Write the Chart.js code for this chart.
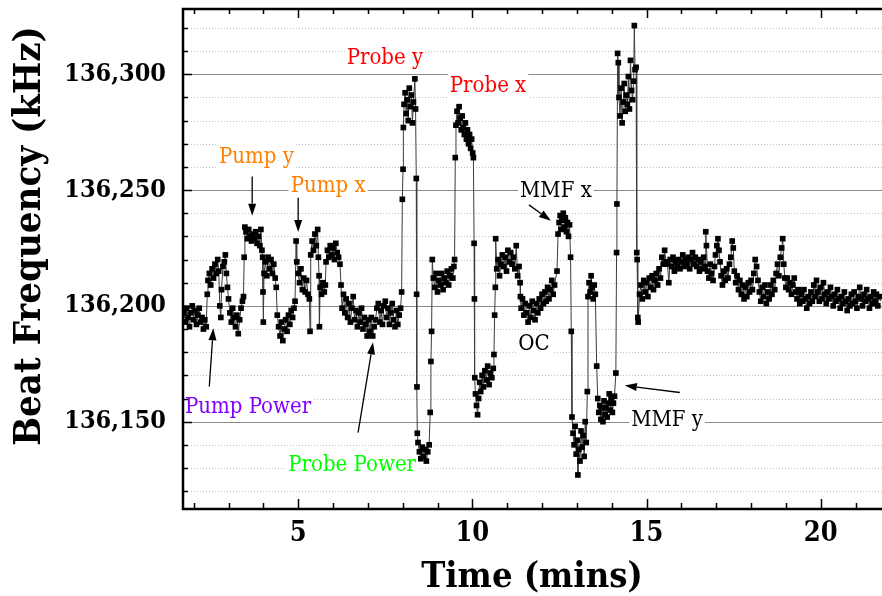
<!DOCTYPE html>
<html>
<head>
<meta charset="utf-8">
<script src="https://cdn.jsdelivr.net/npm/chart.js@4.4.1/dist/chart.umd.min.js"></script>
<style>
  html, body { margin: 0; padding: 0; background: #fff; }
  canvas { display: block; }
</style>
</head>
<body>
<canvas id="beatChart" width="882" height="596"></canvas>
<script>
// beat note readings: time in minutes, frequency in kHz
const timeMin = [
  1.68, 1.72, 1.76, 1.80, 1.84, 1.88, 1.92, 1.96, 2.00, 2.04, 2.08, 2.12, 2.16, 2.20, 2.24, 2.28, 2.32, 2.36,
  2.39, 2.41, 2.45, 2.49, 2.53, 2.57, 2.61, 2.65, 2.69, 2.72, 2.75, 2.78, 2.80, 2.84, 2.88, 2.91, 2.94, 2.97, 3.00,
  3.04, 3.08, 3.12, 3.16, 3.20, 3.24, 3.28, 3.32, 3.36, 3.40, 3.43,
  3.45, 3.47, 3.50, 3.54, 3.58, 3.62, 3.66, 3.70, 3.74, 3.78, 3.82, 3.86, 3.90, 3.93, 3.96,
  3.98, 3.99, 4.00, 4.02, 4.06, 4.10, 4.14, 4.18, 4.22, 4.26, 4.30, 4.34, 4.37,
  4.40, 4.44, 4.48, 4.52, 4.56, 4.60, 4.64, 4.68, 4.72, 4.76, 4.80, 4.84, 4.88, 4.91, 4.94,
  4.96, 5.00, 5.04, 5.08, 5.12, 5.16, 5.20, 5.24, 5.28, 5.32, 5.34,
  5.36, 5.40, 5.44, 5.48, 5.52, 5.56, 5.58, 5.60, 5.61,
  5.63, 5.67, 5.71, 5.75, 5.78,
  5.80, 5.84, 5.88, 5.92, 5.96, 6.00, 6.04, 6.08, 6.12, 6.16, 6.20,
  6.23, 6.26, 6.30, 6.34, 6.38, 6.42, 6.46, 6.50, 6.54, 6.58, 6.62, 6.66, 6.70, 6.74, 6.78, 6.82, 6.86, 6.90, 6.94, 6.98, 7.02, 7.06, 7.10, 7.14, 7.18,
  7.22, 7.26, 7.30, 7.34, 7.38, 7.42, 7.46, 7.50, 7.54, 7.58, 7.62, 7.66, 7.70, 7.74, 7.78, 7.82, 7.86, 7.90, 7.94,
  7.97, 7.99, 8.01, 8.02, 8.04, 8.07, 8.10, 8.13, 8.16, 8.19, 8.22, 8.25, 8.28, 8.31, 8.35, 8.37,
  8.39, 8.40, 8.41, 8.42, 8.44, 8.48, 8.52, 8.56, 8.60, 8.64, 8.68, 8.72, 8.76,
  8.79, 8.81, 8.83, 8.85, 8.88, 8.92, 8.96, 9.00, 9.04, 9.08, 9.12, 9.16, 9.20, 9.24, 9.28, 9.32, 9.36, 9.40, 9.44, 9.47,
  9.49, 9.51, 9.53, 9.56, 9.59, 9.62, 9.65, 9.68, 9.71, 9.74, 9.77, 9.80, 9.83, 9.86, 9.89, 9.92, 9.95, 9.98, 10.01,
  10.03, 10.05, 10.06, 10.07, 10.09, 10.12, 10.15, 10.18, 10.21, 10.24, 10.28, 10.32, 10.36, 10.40, 10.44, 10.48, 10.52, 10.56, 10.60,
  10.62, 10.64, 10.66, 10.67, 10.70, 10.74, 10.78, 10.82, 10.86, 10.90, 10.94, 10.98, 11.02, 11.06, 11.10, 11.14, 11.18, 11.22, 11.26, 11.30, 11.34,
  11.37, 11.38, 11.40, 11.44, 11.48, 11.52, 11.56, 11.60, 11.64, 11.68, 11.72, 11.76, 11.80, 11.84, 11.88, 11.92, 11.96, 12.00, 12.04, 12.08, 12.12, 12.16, 12.20, 12.24, 12.28, 12.32, 12.36,
  12.43, 12.46, 12.49, 12.52, 12.55, 12.58, 12.61, 12.64, 12.67, 12.70, 12.73, 12.76, 12.79,
  12.82, 12.84, 12.86, 12.89, 12.92, 12.95, 12.98, 13.01, 13.03, 13.06, 13.09, 13.12, 13.15, 13.18, 13.21, 13.24, 13.27,
  13.30, 13.32, 13.35, 13.38, 13.41, 13.44, 13.47, 13.50, 13.53,
  13.57, 13.60, 13.63, 13.66, 13.69, 13.72, 13.75, 13.78, 13.81, 13.84, 13.87, 13.90, 13.93, 13.96, 13.99, 14.02, 14.05, 14.08,
  14.12, 14.14, 14.15, 14.17, 14.19, 14.21, 14.24, 14.27, 14.30, 14.33, 14.36, 14.39, 14.42, 14.45, 14.48, 14.51, 14.54, 14.57, 14.60, 14.63, 14.65, 14.67, 14.70, 14.72, 14.73, 14.75, 14.76,
  14.80, 14.84, 14.88, 14.92, 14.96, 15.00, 15.04, 15.08, 15.12, 15.16, 15.20, 15.24, 15.28, 15.32, 15.36, 15.40, 15.44, 15.48, 15.52, 15.56,
  15.60, 15.64, 15.68, 15.72, 15.76, 15.80, 15.84, 15.88, 15.92, 15.96, 16.00, 16.04, 16.08, 16.12, 16.16, 16.20, 16.24, 16.28, 16.32, 16.36,
  16.40, 16.44, 16.48, 16.52, 16.56, 16.60, 16.64, 16.68, 16.70, 16.72, 16.75, 16.79, 16.83, 16.87, 16.91, 16.95, 16.98, 17.02, 17.05, 17.08, 17.11, 17.14, 17.18,
  17.22, 17.26, 17.30, 17.34, 17.38, 17.42, 17.46, 17.49, 17.52, 17.56, 17.60, 17.64, 17.68, 17.72, 17.76, 17.80, 17.84, 17.88, 17.92, 17.96, 18.00,
  18.04, 18.08, 18.12, 18.16, 18.20, 18.24, 18.28, 18.32, 18.36, 18.40, 18.44, 18.48, 18.52, 18.56, 18.60, 18.64, 18.68, 18.72, 18.76, 18.80,
  18.84, 18.88, 18.91, 18.94, 18.97, 19.00, 19.04, 19.08, 19.12, 19.16, 19.20, 19.24, 19.28, 19.32, 19.36, 19.40, 19.44, 19.48, 19.52, 19.56, 19.60,
  19.64, 19.68, 19.72, 19.76, 19.80, 19.84, 19.88, 19.92, 19.96, 20.00, 20.04, 20.08, 20.12, 20.16, 20.20, 20.24, 20.28, 20.32, 20.36, 20.40,
  20.44, 20.48, 20.52, 20.56, 20.60, 20.64, 20.68, 20.72, 20.76, 20.80, 20.84, 20.88, 20.92, 20.96, 21.00, 21.04, 21.08, 21.12, 21.16, 21.20,
  21.24, 21.28, 21.32, 21.36, 21.40, 21.44, 21.48, 21.52, 21.56, 21.60, 21.64, 21.68, 21.72
];

const beatKHz = [
  136203, 136197, 136193, 136199, 136195, 136191, 136197, 136200, 136194, 136198, 136192, 136196, 136199, 136193, 136195, 136190, 136194, 136191,
  136205, 136211, 136214, 136209, 136216, 136212, 136218, 136214, 136220, 136215, 136200, 136195, 136207, 136217, 136219, 136222, 136214, 136208, 136203,
  136197, 136193, 136199, 136195, 136191, 136196, 136188, 136194, 136199, 136202, 136204,
  136221, 136234, 136232, 136229, 136233, 136230, 136228, 136231, 136229, 136232, 136227, 136230, 136226, 136233, 136224,
  136221, 136206, 136193, 136214, 136219, 136213, 136221, 136216, 136220, 136214, 136218, 136212, 136208,
  136196, 136191, 136187, 136193, 136185, 136190, 136194, 136189, 136196, 136192, 136198, 136195, 136199, 136202, 136228,
  136219, 136214, 136210, 136216, 136207, 136212, 136206, 136211, 136205, 136203, 136189,
  136222, 136228, 136224, 136231, 136226, 136233, 136221, 136213, 136191,
  136208, 136205, 136210, 136206, 136209,
  136219, 136224, 136221, 136226, 136222, 136225, 136220, 136227, 136223, 136221, 136218,
  136209, 136199, 136205, 136197, 136203, 136195, 136201, 136193, 136199, 136204, 136194, 136198, 136191, 136197, 136193, 136199, 136190, 136195, 136192, 136187, 136194, 136189, 136195, 136187, 136191,
  136194, 136199, 136201, 136193, 136198, 136192, 136200, 136202, 136195, 136199, 136192, 136197, 136201, 136194, 136191, 136198, 136192, 136196, 136199,
  136206, 136246, 136259, 136277, 136287, 136292, 136283, 136289, 136280, 136294, 136286, 136291, 136279, 136288, 136298, 136285,
  136255, 136205, 136165, 136145, 136141, 136137, 136134, 136139, 136135, 136138, 136133, 136137, 136140,
  136154, 136176, 136189, 136220, 136212, 136208, 136214, 136206, 136211, 136209, 136214, 136207, 136212, 136210, 136215, 136209, 136213, 136216, 136212, 136217,
  136220, 136264, 136278, 136284, 136279, 136286, 136281, 136276, 136282, 136277, 136274, 136279, 136272, 136276, 136270, 136274, 136268, 136272, 136266,
  136264, 136227, 136203, 136169, 136162, 136157, 136153, 136160, 136167, 136163, 136170, 136165, 136172, 136168, 136174, 136166, 136171, 136169, 136173,
  136179, 136196, 136208, 136229, 136216, 136220, 136213, 136218, 136222, 136217, 136221, 136215, 136224, 136219, 136223, 136218, 136221, 136216, 136226, 136213, 136217,
  136210, 136204, 136199, 136203, 136196, 136201, 136197, 136193, 136200, 136195, 136202, 136198, 136194, 136201, 136197, 136203, 136199, 136205, 136201, 136206, 136202, 136208, 136203, 136207, 136211, 136205, 136209,
  136215, 136231, 136236, 136239, 136233, 136237, 136240, 136234, 136238, 136232, 136236, 136230, 136235,
  136221, 136189, 136152, 136145, 136140, 136148, 136136, 136142, 136127, 136138, 136133, 136146, 136139, 136144, 136135, 136150, 136141,
  136163, 136204, 136210, 136206, 136213, 136208, 136203, 136209, 136205,
  136174, 136160, 136154, 136157, 136151, 136156, 136150, 136159, 136153, 136156, 136152, 136158, 136162, 136155, 136160, 136154, 136158, 136161,
  136171, 136223, 136244, 136309, 136305, 136290, 136282, 136294, 136279, 136288, 136296, 136284, 136291, 136287, 136299, 136285, 136306, 136293, 136289, 136297, 136321, 136302, 136303, 136223, 136220, 136195, 136193,
  136205, 136209, 136203, 136211, 136206, 136210, 136204, 136212, 136208, 136213, 136207, 136211, 136214, 136209, 136216, 136212, 136221, 136218, 136224, 136219,
  136218, 136210, 136220, 136217, 136221, 136215, 136219, 136217, 136220, 136216, 136219, 136222, 136217, 136220, 136218, 136221, 136216, 136220, 136223, 136218,
  136221, 136217, 136220, 136215, 136219, 136216, 136221, 136217, 136232, 136226, 136215, 136212, 136218, 136214, 136211, 136217, 136222, 136226, 136229, 136224, 136219, 136213, 136209,
  136215, 136211, 136216, 136212, 136218, 136221, 136228, 136225, 136215, 136210, 136213, 136207, 136211, 136205, 136209, 136203, 136208, 136204, 136210, 136206, 136211,
  136207, 136214, 136220, 136217, 136211, 136206, 136202, 136208, 136204, 136209, 136201, 136206, 136203, 136209, 136205, 136211, 136207, 136214, 136218, 136213,
  136221, 136225, 136229, 136218, 136212, 136208, 136212, 136207, 136210, 136205, 136209, 136212, 136206, 136203, 136207, 136201, 136205, 136202, 136207, 136203, 136199,
  136204, 136201, 136206, 136202, 136209, 136204, 136211, 136206, 136202, 136208, 136203, 136210, 136205, 136201, 136206, 136203, 136208, 136204, 136200, 136205,
  136202, 136207, 136203, 136199, 136204, 136201, 136206, 136202, 136198, 136203, 136200, 136205, 136201, 136206, 136202, 136199, 136204, 136208, 136203, 136200,
  136205, 136202, 136207, 136203, 136199, 136204, 136201, 136206, 136202, 136205, 136200, 136204, 136202
];

const xTickValues = [5, 10, 15, 20];
const yTickValues = [136150, 136200, 136250, 136300];

// what was switched at each step, placed in data coordinates (text baseline centre)
const notes = [
  { text: 'Pump y', color: '#ff8000', x: 3.80, y: 136261.8 },
  { text: 'Pump x', color: '#ff8000', x: 5.86, y: 136249.3 },
  { text: 'Probe y', color: '#ff0000', x: 7.49, y: 136304.3 },
  { text: 'Probe x', color: '#ff0000', x: 10.45, y: 136292.2 },
  { text: 'MMF x', color: '#000000', x: 12.40, y: 136247.1 },
  { text: 'OC', color: '#000000', x: 11.77, y: 136180.8 },
  { text: 'MMF y', color: '#000000', x: 15.59, y: 136148.3 },
  { text: 'Pump Power', color: '#8000ff', x: 3.56, y: 136153.9 },
  { text: 'Probe Power', color: '#00ff00', x: 6.55, y: 136128.8 }
];

const arrows = [
  { from: [3.68, 136255.8], to: [3.68, 136238.9] },
  { from: [5.00, 136246.7], to: [5.00, 136231.9] },
  { from: [11.625, 136243.6], to: [12.256, 136236.7] },
  { from: [15.955, 136162.6], to: [14.378, 136165.6] },
  { from: [2.448, 136165.2], to: [2.563, 136190.3] },
  { from: [6.719, 136145.3], to: [7.149, 136184.3] }
];

if (timeMin.length !== beatKHz.length) {
  throw new Error('length mismatch ' + timeMin.length + ' vs ' + beatKHz.length);
}

const SERIF = '"DejaVu Serif Condensed", "DejaVu Serif", serif';
const lastIndex = timeMin.length - 1;

// grid lines and note labels go under the data
const underlay = {
  id: 'underlay',
  beforeDatasetsDraw(chart) {
    const { ctx, chartArea: a, scales: { x, y } } = chart;
    ctx.save();
    ctx.lineWidth = 1;
    ctx.strokeStyle = '#c2c2c2';
    ctx.setLineDash([1, 2]);
    for (let v = Math.ceil(y.min / 10) * 10; v <= y.max; v += 10) {
      if (v % 50 === 0) continue;
      const py = Math.round(y.getPixelForValue(v)) + 0.5;
      ctx.beginPath(); ctx.moveTo(a.left, py); ctx.lineTo(a.right, py); ctx.stroke();
    }
    ctx.setLineDash([]);
    ctx.strokeStyle = '#8a8a8a';
    yTickValues.forEach(v => {
      const py = Math.round(y.getPixelForValue(v)) + 0.5;
      ctx.beginPath(); ctx.moveTo(a.left, py); ctx.lineTo(a.right, py); ctx.stroke();
    });

    ctx.font = '22px ' + SERIF;
    ctx.textAlign = 'center';
    ctx.textBaseline = 'alphabetic';
    notes.forEach(n => {
      const px = x.getPixelForValue(n.x);
      const py = y.getPixelForValue(n.y);
      const w = ctx.measureText(n.text).width;
      ctx.fillStyle = '#fff';
      ctx.fillRect(px - w / 2 - 2, py - 20, w + 4, 26);
      ctx.fillStyle = n.color;
      ctx.fillText(n.text, px, py);
    });
    ctx.restore();
  },
  afterDatasetsDraw(chart) {
    const { ctx, chartArea: a, scales: { x, y } } = chart;
    ctx.save();
    // arrows
    ctx.strokeStyle = '#000';
    ctx.fillStyle = '#000';
    ctx.lineWidth = 1.3;
    arrows.forEach(ar => {
      const x0 = x.getPixelForValue(ar.from[0]), y0 = y.getPixelForValue(ar.from[1]);
      const x1 = x.getPixelForValue(ar.to[0]), y1 = y.getPixelForValue(ar.to[1]);
      const ang = Math.atan2(y1 - y0, x1 - x0);
      const len = 12, half = 4;
      const bx = x1 - len * Math.cos(ang), by = y1 - len * Math.sin(ang);
      ctx.beginPath(); ctx.moveTo(x0, y0); ctx.lineTo(bx, by); ctx.stroke();
      ctx.beginPath();
      ctx.moveTo(x1, y1);
      ctx.lineTo(bx + half * Math.sin(ang), by - half * Math.cos(ang));
      ctx.lineTo(bx - half * Math.sin(ang), by + half * Math.cos(ang));
      ctx.closePath(); ctx.fill();
    });

    // frame and inward ticks
    ctx.lineWidth = 1.5;
    for (let t = Math.ceil(x.min); t <= x.max; t++) {
      const px = Math.round(x.getPixelForValue(t)) + 0.5;
      const len = t % 5 === 0 ? 10 : 6;
      ctx.beginPath();
      ctx.moveTo(px, a.bottom); ctx.lineTo(px, a.bottom - len);
      ctx.moveTo(px, a.top); ctx.lineTo(px, a.top + len);
      ctx.stroke();
    }
    for (let v = Math.ceil(y.min / 10) * 10; v <= y.max; v += 10) {
      const py = Math.round(y.getPixelForValue(v)) + 0.5;
      const len = v % 50 === 0 ? 10 : 6;
      ctx.beginPath(); ctx.moveTo(a.left, py); ctx.lineTo(a.left + len, py); ctx.stroke();
    }
    ctx.lineWidth = 2.5;
    ctx.beginPath();
    ctx.moveTo(chart.width, a.top + 1);
    ctx.lineTo(a.left + 1, a.top + 1);
    ctx.lineTo(a.left + 1, a.bottom);
    ctx.lineTo(chart.width, a.bottom);
    ctx.stroke();
    ctx.restore();
  },
  afterDraw(chart) {
    // vertical axis title, sitting a little above the plot centre
    const { ctx } = chart;
    ctx.save();
    ctx.translate(30, 236);
    ctx.rotate(-Math.PI / 2);
    ctx.font = 'bold 38px ' + SERIF;
    ctx.fillStyle = '#000';
    ctx.textAlign = 'center';
    ctx.textBaseline = 'middle';
    ctx.fillText('Beat Frequency (kHz)', 0, 0);
    ctx.restore();
  }
};

new Chart(document.getElementById('beatChart'), {
  type: 'line',
  data: {
    datasets: [{
      data: timeMin.map((t, i) => ({ x: t, y: beatKHz[i] })),
      borderColor: '#3c3c3c',
      borderWidth: 1,
      tension: 0,
      pointStyle: 'rect',
      // end points carry no marker so the plot runs to the canvas edge
      pointRadius: c => (c.dataIndex === 0 || c.dataIndex === lastIndex) ? 0 : 4,
      pointHoverRadius: 0,
      pointBackgroundColor: '#000',
      pointBorderColor: '#000',
      pointBorderWidth: 0
    }]
  },
  options: {
    responsive: false,
    animation: false,
    devicePixelRatio: 1,
    layout: { padding: { top: 8, right: 0, bottom: 0, left: 0 } },
    plugins: { legend: { display: false }, tooltip: { enabled: false } },
    scales: {
      x: {
        type: 'linear',
        min: 1.665,
        max: 21.76,
        afterBuildTicks: s => { s.ticks = xTickValues.map(v => ({ value: v })); },
        afterFit: s => { s.height = 87; s.paddingLeft = 0; s.paddingRight = 0; },
        grid: { display: false, drawTicks: false },
        border: { display: false },
        ticks: {
          color: '#000', padding: 9, maxRotation: 0, autoSkip: false,
          font: { family: SERIF, size: 27, weight: 'bold' }
        },
        title: {
          display: true, text: 'Time (mins)', color: '#000',
          font: { family: SERIF, size: 36, weight: 'bold', lineHeight: 1 },
          padding: 0
        }
      },
      y: {
        min: 136112.3,
        max: 136328.6,
        afterBuildTicks: s => { s.ticks = yTickValues.map(v => ({ value: v })); },
        afterFit: s => { s.width = 182; s.paddingTop = 0; s.paddingBottom = 0; },
        grid: { display: false, drawTicks: false },
        border: { display: false },
        ticks: {
          color: '#000', padding: 16,
          font: { family: SERIF, size: 25, weight: 'bold' },
          callback: v => v.toLocaleString('en-US')
        },
        title: { display: false }
      }
    }
  },
  plugins: [underlay]
});
</script>
</body>
</html>
